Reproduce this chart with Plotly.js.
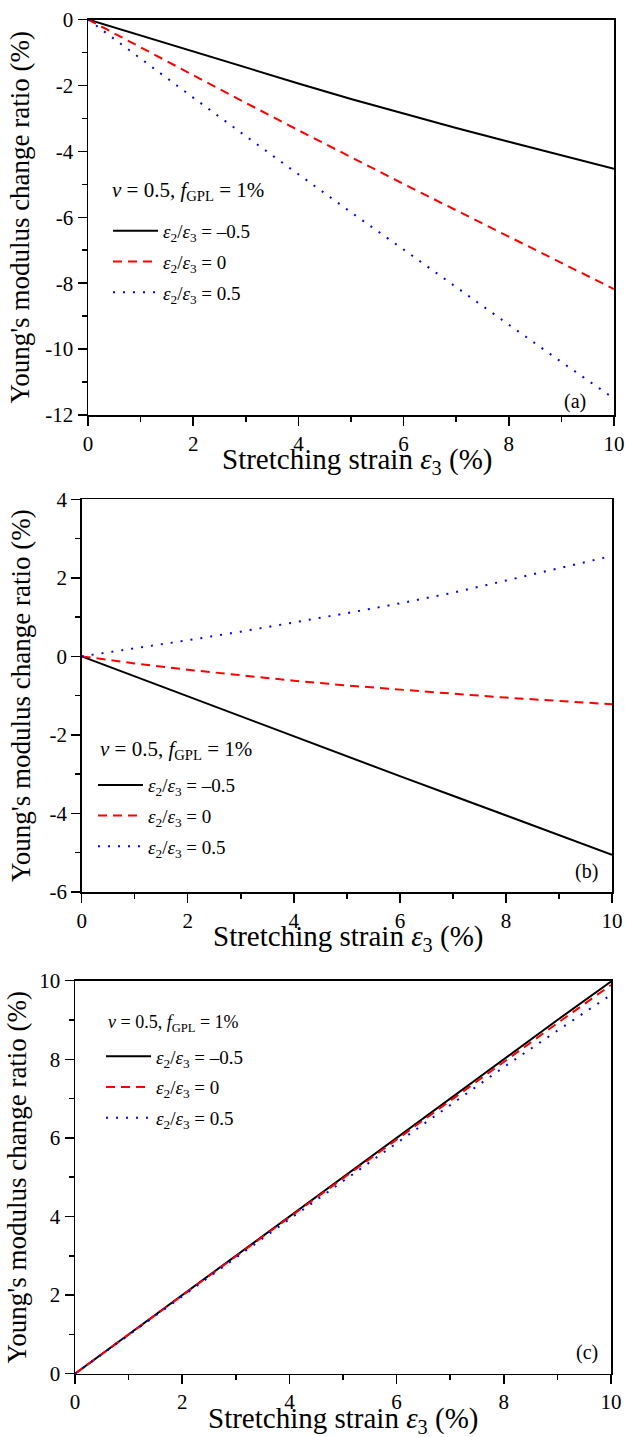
<!DOCTYPE html>
<html>
<head>
<meta charset="utf-8">
<script src="https://cdn.plot.ly/plotly-3.0.1.min.js"></script>
<style>html,body{margin:0;padding:0;background:#fff;}</style>
</head>
<body>
<div id="chart" style="width:625px;height:1437px;"></div>
<script>
// ---- data ----
const strain = [0,1,2,3,4,5,6,7,8,9,10];

const panelA_m05 = [0,-0.49,-0.98,-1.46,-1.94,-2.41,-2.86,-3.29,-3.71,-4.12,-4.53];
const panelA_0   = [0,-0.85,-1.69,-2.53,-3.36,-4.18,-4.99,-5.79,-6.59,-7.39,-8.18];
const panelA_05  = [0,-1.19,-2.37,-3.54,-4.70,-5.85,-6.98,-8.13,-9.26,-10.39,-11.5];

const panelB_m05 = [0,-0.51,-1.02,-1.53,-2.04,-2.55,-3.05,-3.55,-4.05,-4.55,-5.05];
const panelB_0   = [0,-0.18,-0.34,-0.48,-0.62,-0.74,-0.85,-0.95,-1.05,-1.14,-1.22];
const panelB_05  = [0,0.20,0.41,0.63,0.86,1.10,1.35,1.62,1.93,2.24,2.56];

const panelC_m05 = [0,1.0,2.01,3.01,4.01,5.0,6.0,7.0,8.0,9.0,9.98];
const panelC_0   = [0,1.0,1.99,2.98,3.98,4.97,5.96,6.96,7.95,8.92,9.89];
const panelC_05  = [0,0.99,1.97,2.95,3.93,4.9,5.87,6.84,7.8,8.73,9.64];

const seriesNames = [
  "<i>ε</i><sub>2</sub>/<i>ε</i><sub>3</sub> = –0.5",
  "<i>ε</i><sub>2</sub>/<i>ε</i><sub>3</sub> = 0",
  "<i>ε</i><sub>2</sub>/<i>ε</i><sub>3</sub> = 0.5"
];
const legendHeader = "<i>ν</i> = 0.5, <i>f</i><sub>GPL</sub> = 1%";
const panelLabels = ["(a)", "(b)", "(c)"];

const xTickVals = [0,2,4,6,8,10];
const xTickText = ["0","2","4","6","8","10"];
const yTickValsA = [0,-2,-4,-6,-8,-10,-12];
const yTickTextA = ["0","-2","-4","-6","-8","-10","-12"];
const yTickValsB = [4,2,0,-2,-4,-6];
const yTickTextB = ["4","2","0","-2","-4","-6"];
const yTickValsC = [0,2,4,6,8,10];
const yTickTextC = ["0","2","4","6","8","10"];

const xTitle = "Stretching strain <i>ε</i><sub>3</sub> (%)";
const yTitle = "Young's modulus change ratio (%)";

// ---- styles ----
const lineStyles = [
  {color:'#000000', width:2, dash:'solid'},
  {color:'#ff0000', width:2, dash:'9px,6px'},
  {color:'#0000ff', width:2, dash:'2px,8px'}
];

const panels = [
  {data:[panelA_m05,panelA_0,panelA_05], xa:'x', ya:'y', legend:'legend'},
  {data:[panelB_m05,panelB_0,panelB_05], xa:'x2', ya:'y2', legend:'legend2'},
  {data:[panelC_m05,panelC_0,panelC_05], xa:'x3', ya:'y3', legend:'legend3'}
];

const traces = [];
panels.forEach((p, pi) => {
  p.data.forEach((ys, si) => {
    traces.push({
      type:'scatter', mode:'lines', x:strain, y:ys,
      xaxis:p.xa, yaxis:p.ya, legend:p.legend,
      legendgroup:'g'+pi+'_'+si,
      name:seriesNames[si], line:lineStyles[si], showlegend:true
    });
  });
});

const FONT = 'Liberation Serif';

function xAxis(domain, anchor){
  return {
    domain:domain, anchor:anchor, range:[0,10],
    tickmode:'array', tickvals:xTickVals, ticktext:xTickText,
    ticks:'outside', ticklen:9, tickwidth:1.5, tickcolor:'#000',
    minor:{ticks:'outside', ticklen:5, tickwidth:1.5, tickcolor:'#000', dtick:1, tick0:0, showgrid:false},
    showline:true, linewidth:1.5, linecolor:'#000', mirror:true,
    showgrid:false, zeroline:false,
    tickfont:{family:FONT, size:21, color:'#000'}
  };
}
function yAxis(domain, anchor, range, tv, tt, standoff){
  return {
    domain:domain, anchor:anchor, range:range,
    tickmode:'array', tickvals:tv, ticktext:tt,
    ticks:'outside', ticklen:9, tickwidth:1.5, tickcolor:'#000',
    minor:{ticks:'outside', ticklen:5, tickwidth:1.5, tickcolor:'#000', dtick:1, tick0:1, showgrid:false},
    showline:true, linewidth:1.5, linecolor:'#000', mirror:true,
    showgrid:false, zeroline:false,
    tickfont:{family:FONT, size:21, color:'#000'},
    title:{text:yTitle, font:{family:FONT, size:27, color:'#000'}, standoff:standoff}
  };
}
function legendCfg(x, y){
  return {
    x:x, y:y, xanchor:'left', yanchor:'top', xref:'paper', yref:'paper',
    bgcolor:'rgba(0,0,0,0)', borderwidth:0,
    font:{family:FONT, size:19, color:'#000'},
    tracegroupgap:3, itemwidth:45, traceorder:'grouped'
  };
}
function header(x, y, size){
  return {text:legendHeader, xref:'paper', yref:'paper', x:x, y:y, xanchor:'left', yanchor:'middle',
          showarrow:false, font:{family:FONT, size:size, color:'#000'}};
}
function panelLabel(i, xr, yr, x, y){
  return {text:panelLabels[i], xref:xr, yref:yr, x:x, y:y, xanchor:'right', yanchor:'middle',
          showarrow:false, font:{family:FONT, size:20, color:'#000'}};
}
function xTitleAnn(xr, yr, x){
  return {text:xTitle, xref:xr, yref:yr, x:x, y:0, xanchor:'center', yanchor:'middle', yshift:-46,
          showarrow:false, font:{family:FONT, size:29, color:'#000'}};
}

const layout = {
  width:625, height:1437, autosize:false,
  margin:{l:0, r:0, t:0, b:0, pad:0},
  paper_bgcolor:'#fff', plot_bgcolor:'#fff',
  font:{family:FONT, color:'#000', size:20},
  xaxis:xAxis([0.1408,0.9824],'y'),
  yaxis:yAxis([0.7112,0.98643],'x',[-12,0],yTickValsA,yTickTextA,8),
  xaxis2:xAxis([0.1307,0.9792],'y2'),
  yaxis2:yAxis([0.37926,0.65254],'x2',[-6,4],yTickValsB,yTickTextB,11),
  xaxis3:xAxis([0.12,0.9776],'y3'),
  yaxis3:yAxis([0.04405,0.31754],'x3',[0,10],yTickValsC,yTickTextC,5),
  legend:legendCfg(0.1728,0.8525),
  legend2:legendCfg(0.1488,0.4669),
  legend3:legendCfg(0.1616,0.2780),
  annotations:[
    header(0.176,0.8671,21),
    header(0.1568,0.4781,21),
    header(0.1696,0.2881,18),
    xTitleAnn('x domain','y domain',0.512),
    xTitleAnn('x2 domain','y2 domain',0.502),
    xTitleAnn('x3 domain','y3 domain',0.5),
    panelLabel(0,'x domain','y domain',0.9506,0.035),
    panelLabel(1,'x2 domain','y2 domain',0.977,0.052),
    panelLabel(2,'x3 domain','y3 domain',0.979,0.053)
  ]
};

Plotly.newPlot('chart', traces, layout, {staticPlot:true, displayModeBar:false});
</script>
</body>
</html>
